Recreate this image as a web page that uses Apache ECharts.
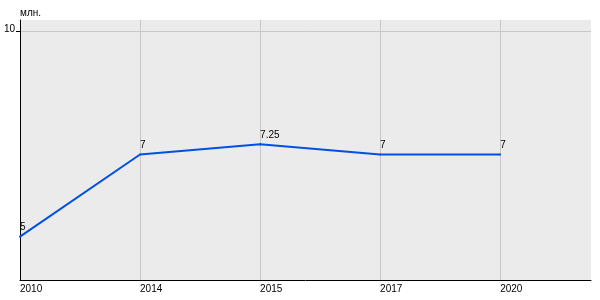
<!DOCTYPE html>
<html><head><meta charset="utf-8">
<script src="https://cdn.jsdelivr.net/npm/echarts@6/dist/echarts.min.js"></script>
<style>html,body{margin:0;padding:0;background:#fff}#c{width:600px;height:300px}</style>
</head><body><div id="c"></div>
<script>
const categories = ['2010', '2014', '2015', '2017', '2020'];
const values = [5, 7, 7.25, 7, 7];
const yTicks = [10];
const unitLabel = 'млн.';

const chart = echarts.init(document.getElementById('c'), null, {renderer: 'canvas'});
const font = 'Liberation Sans, Arial, sans-serif';
chart.setOption({
  animation: false,
  backgroundColor: '#ffffff',
  grid: {left: 20, top: 20, right: 9, bottom: 20, show: true, backgroundColor: '#ebebeb', borderWidth: 0, containLabel: false, outerBoundsMode: 'none'},
  xAxis: {
    type: 'value', min: 0, max: 4.757,
    axisLine: {show: true, onZero: false, lineStyle: {color: '#000', width: 1}},
    axisTick: {show: false, customValues: [0, 1, 2, 3, 4]},
    axisLabel: {customValues: [0, 1, 2, 3, 4], formatter: v => categories[Math.round(v)], color: '#000', fontSize: 10, fontFamily: font, align: 'left', margin: 4, showMaxLabel: true, showMinLabel: true},
    splitLine: {show: true, lineStyle: {color: '#c8c8c8', width: 1}}
  },
  yAxis: {
    type: 'value', min: 3.944, max: 10.275,
    name: unitLabel, nameLocation: 'end', nameGap: 2,
    nameTextStyle: {color: '#000', fontSize: 10, fontFamily: font, align: 'left'},
    axisLine: {show: true, lineStyle: {color: '#000', width: 1}},
    axisTick: {show: true, length: 4, customValues: yTicks, lineStyle: {color: '#000'}},
    axisLabel: {customValues: yTicks, color: '#000', fontSize: 10, fontFamily: font, margin: 5, verticalAlign: 'bottom', lineHeight: 4},
    splitLine: {show: true, lineStyle: {color: '#c8c8c8', width: 1}}
  },
  series: [{
    type: 'line',
    data: values.map((v, i) => [i, v]),
    symbol: 'circle', symbolSize: 2, showSymbol: true,
    itemStyle: {color: '#0050e6', borderWidth: 0},
    lineStyle: {color: '#0050e6', width: 2},
    label: {show: true, position: 'top', align: 'left', distance: 3, color: '#000', fontSize: 10, fontFamily: font,
      formatter: p => String(p.value[1])},
    labelLayout: {hideOverlap: false}
  }]
});
</script></body></html>
